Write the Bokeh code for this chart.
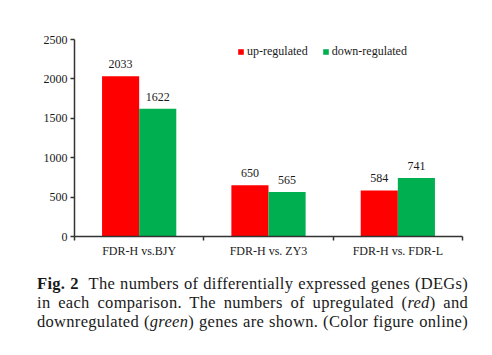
from bokeh.plotting import figure
from bokeh.models import ColumnDataSource, FixedTicker, Legend, LegendItem, Div, Range1d
from bokeh.layouts import column
from bokeh.embed import file_html
from bokeh.resources import INLINE
from bokeh.transform import dodge
from bokeh.core.properties import value

categories = ["FDR-H vs.BJY", "FDR-H vs. ZY3", "FDR-H vs. FDR-L"]
up_regulated = [2033, 650, 584]
down_regulated = [1622, 565, 741]
y_ticks = [0, 500, 1000, 1500, 2000, 2500]

FONT = "Liberation Serif"
RED = "#FF0000"
GREEN = "#00B050"

xs = [i + 0.5 for i in range(len(categories))]
src = ColumnDataSource(dict(
    x=xs, up=up_regulated, down=down_regulated,
    up_t=[str(v) for v in up_regulated], down_t=[str(v) for v in down_regulated],
))

p = figure(width=484, height=263, x_range=Range1d(0, len(categories)),
           y_range=Range1d(0, y_ticks[-1]), output_backend="svg",
           toolbar_location=None, min_border_left=74, min_border_right=22,
           min_border_top=39, min_border_bottom=27)
p.outline_line_color = None
p.xgrid.visible = False
p.ygrid.visible = False
p.background_fill_color = "white"

bw = 0.287
off = bw / 2
r1 = p.vbar(x=dodge('x', -off, range=p.x_range), top='up', width=bw, source=src,
            fill_color=RED, line_color=None)
r2 = p.vbar(x=dodge('x', off, range=p.x_range), top='down', width=bw, source=src,
            fill_color=GREEN, line_color=None)

for col, tcol, d in (("up", "up_t", -off), ("down", "down_t", off)):
    p.text(x=dodge('x', d, range=p.x_range), y=col, text=tcol, source=src,
           text_align="center", text_baseline="bottom", y_offset=-8,
           text_font=value(FONT), text_font_size="12px", text_color="#1a1a1a")

# x axis: labels at centers, ticks at category boundaries
p.xaxis.ticker = FixedTicker(ticks=xs, minor_ticks=list(range(len(categories) + 1)))
p.xaxis.major_label_overrides = {x: c for x, c in zip(xs, categories)}
p.xaxis.major_tick_out = 0
p.xaxis.major_tick_in = 0
p.xaxis.minor_tick_out = 4
p.xaxis.minor_tick_in = 0
p.xaxis.minor_tick_line_color = "#333333"
p.xaxis.minor_tick_line_width = 1.5
p.xaxis.major_label_standoff = 3

p.yaxis.ticker = FixedTicker(ticks=y_ticks, minor_ticks=[])
p.yaxis.major_tick_out = 4
p.yaxis.major_tick_in = 0
p.yaxis.major_label_standoff = 3
p.yaxis.major_tick_line_color = "#333333"
p.yaxis.major_tick_line_width = 1.5

for ax in (p.xaxis, p.yaxis):
    ax.axis_line_color = "#333333"
    ax.axis_line_width = 1.5
    ax.major_label_text_font = FONT
    ax.major_label_text_font_size = "12px"
    ax.major_label_text_color = "#1a1a1a"

legend = Legend(items=[LegendItem(label="up-regulated", renderers=[r1]),
                       LegendItem(label="down-regulated", renderers=[r2])],
                orientation="horizontal", location=(163, 177),
                padding=0, margin=0, spacing=14, label_standoff=3,
                glyph_width=7, glyph_height=7, label_height=14,
                label_text_font=FONT, label_text_font_size="12px",
                label_text_color="#1a1a1a", border_line_color=None,
                background_fill_alpha=0)
p.add_layout(legend)

caption_html = (
    '<div style="width:431px; text-align:justify; text-align-last:justify;">'
    '<b>Fig. 2</b>&nbsp;&nbsp;The numbers of differentially expressed genes (DEGs)<br>'
    'in each comparison. The numbers of upregulated (<i>red</i>) and<br>'
    'downregulated (<i>green</i>) genes are shown. (Color figure online)'
    '</div>'
)
caption = Div(
    text=caption_html, width=431, margin=(11, 16, 0, 37),
    styles={"font-family": FONT, "font-size": "16.5px", "line-height": "19px",
            "letter-spacing": "0.3px", "color": "#1a1a1a"},
)

layout = column(p, caption, spacing=0)
open("out.html", "w").write(file_html(layout, INLINE))
